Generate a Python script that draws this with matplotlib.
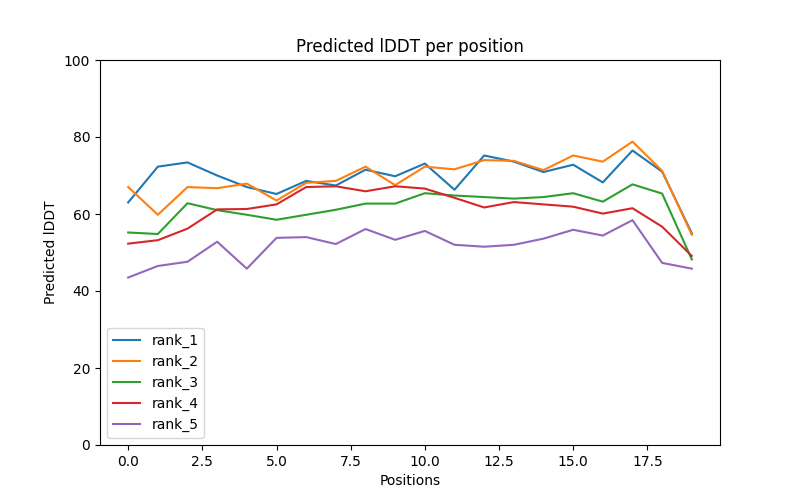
import matplotlib
matplotlib.use("Agg")
import matplotlib.pyplot as plt
import numpy as np

positions = np.arange(20)

rank_1 = [63.0, 72.3, 73.4, 70.0, 67.0, 65.2, 68.6, 67.4, 71.5, 69.8,
          73.1, 66.3, 75.2, 73.6, 70.9, 72.8, 68.2, 76.5, 71.0, 55.0]
rank_2 = [67.0, 59.8, 67.0, 66.7, 67.9, 63.5, 68.1, 68.6, 72.3, 67.5,
          72.3, 71.6, 74.0, 73.8, 71.4, 75.2, 73.6, 78.8, 71.2, 54.6]
rank_3 = [55.2, 54.8, 62.8, 61.0, 59.8, 58.5, 59.8, 61.1, 62.7, 62.7,
          65.4, 64.8, 64.4, 64.0, 64.4, 65.4, 63.2, 67.7, 65.3, 48.2]
rank_4 = [52.3, 53.2, 56.2, 61.2, 61.3, 62.5, 67.0, 67.2, 65.9, 67.2,
          66.6, 64.2, 61.7, 63.1, 62.5, 61.9, 60.1, 61.5, 56.7, 49.1]
rank_5 = [43.5, 46.5, 47.6, 52.8, 45.8, 53.8, 54.0, 52.2, 56.1, 53.3,
          55.6, 52.0, 51.5, 52.0, 53.6, 55.9, 54.4, 58.4, 47.3, 45.8]

series = {"rank_1": rank_1, "rank_2": rank_2, "rank_3": rank_3,
          "rank_4": rank_4, "rank_5": rank_5}

fig, ax = plt.subplots(figsize=(8, 5), dpi=100)
for name, vals in series.items():
    ax.plot(positions, vals, label=name)

ax.set_ylim(0, 100)
ax.set_title("Predicted lDDT per position")
ax.set_xlabel("Positions")
ax.set_ylabel("Predicted lDDT")
ax.legend(loc="lower left")
fig.savefig("out.png")
